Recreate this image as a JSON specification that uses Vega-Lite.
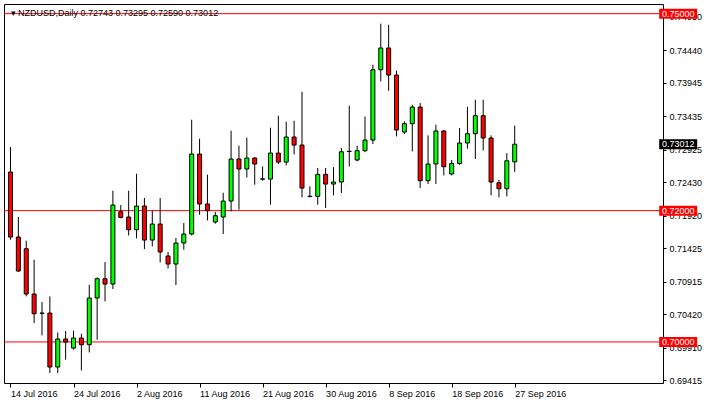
{
  "$schema": "https://vega.github.io/schema/vega-lite/v6.json",
  "width": 659,
  "height": 379,
  "autosize": {"type": "none"},
  "padding": {"left": 4, "top": 4, "right": 45, "bottom": 23},
  "background": "white",
  "config": {
    "view": {"stroke": "black", "strokeWidth": 1},
    "font": "Liberation Sans",
    "axis": {"labelOverlap": false, "labelFlush": false, "labelBound": false}
  },
  "title": {
    "text": "▾  NZDUSD,Daily  0.72743 0.73295 0.72590 0.73012",
    "anchor": "start",
    "orient": "top",
    "offset": -14,
    "dx": 7,
    "font": "Liberation Sans",
    "fontSize": 9,
    "fontWeight": "normal",
    "color": "black"
  },
  "datasets": {
    "candles": [
      {"i": 0, "date": "2016-07-14", "o": 0.72588, "h": 0.72969, "l": 0.71557, "c": 0.71598},
      {"i": 1, "date": "2016-07-15", "o": 0.71598, "h": 0.71903, "l": 0.71070, "c": 0.71080},
      {"i": 2, "date": "2016-07-17", "o": 0.71420, "h": 0.71542, "l": 0.70694, "c": 0.70730},
      {"i": 3, "date": "2016-07-18", "o": 0.70730, "h": 0.71252, "l": 0.70288, "c": 0.70430},
      {"i": 4, "date": "2016-07-19", "o": 0.70440, "h": 0.70608, "l": 0.70100, "c": 0.70436},
      {"i": 5, "date": "2016-07-20", "o": 0.70440, "h": 0.70694, "l": 0.69527, "c": 0.69618},
      {"i": 6, "date": "2016-07-21", "o": 0.69618, "h": 0.70145, "l": 0.69527, "c": 0.70045},
      {"i": 7, "date": "2016-07-22", "o": 0.70045, "h": 0.70167, "l": 0.69729, "c": 0.69999},
      {"i": 8, "date": "2016-07-24", "o": 0.69908, "h": 0.70171, "l": 0.69882, "c": 0.70060},
      {"i": 9, "date": "2016-07-25", "o": 0.70060, "h": 0.70125, "l": 0.69566, "c": 0.69958},
      {"i": 10, "date": "2016-07-26", "o": 0.69958, "h": 0.70872, "l": 0.69841, "c": 0.70669},
      {"i": 11, "date": "2016-07-27", "o": 0.70669, "h": 0.70983, "l": 0.70034, "c": 0.70963},
      {"i": 12, "date": "2016-07-28", "o": 0.70963, "h": 0.71217, "l": 0.70617, "c": 0.70882},
      {"i": 13, "date": "2016-07-29", "o": 0.70882, "h": 0.72303, "l": 0.70806, "c": 0.72085},
      {"i": 14, "date": "2016-07-31", "o": 0.71983, "h": 0.72085, "l": 0.71881, "c": 0.71897},
      {"i": 15, "date": "2016-08-01", "o": 0.71903, "h": 0.72303, "l": 0.71622, "c": 0.71709},
      {"i": 16, "date": "2016-08-02", "o": 0.71709, "h": 0.72562, "l": 0.71577, "c": 0.72070},
      {"i": 17, "date": "2016-08-03", "o": 0.72070, "h": 0.72192, "l": 0.71415, "c": 0.71552},
      {"i": 18, "date": "2016-08-04", "o": 0.71552, "h": 0.71999, "l": 0.71455, "c": 0.71796},
      {"i": 19, "date": "2016-08-05", "o": 0.71796, "h": 0.72192, "l": 0.71211, "c": 0.71370},
      {"i": 20, "date": "2016-08-07", "o": 0.71309, "h": 0.71370, "l": 0.71120, "c": 0.71187},
      {"i": 21, "date": "2016-08-08", "o": 0.71187, "h": 0.71583, "l": 0.70867, "c": 0.71507},
      {"i": 22, "date": "2016-08-09", "o": 0.71507, "h": 0.71811, "l": 0.71405, "c": 0.71644},
      {"i": 23, "date": "2016-08-10", "o": 0.71644, "h": 0.73385, "l": 0.71622, "c": 0.72862},
      {"i": 24, "date": "2016-08-11", "o": 0.72862, "h": 0.73095, "l": 0.71938, "c": 0.72101},
      {"i": 25, "date": "2016-08-12", "o": 0.72101, "h": 0.72547, "l": 0.71851, "c": 0.71999},
      {"i": 26, "date": "2016-08-14", "o": 0.71827, "h": 0.71979, "l": 0.71801, "c": 0.71923},
      {"i": 27, "date": "2016-08-15", "o": 0.71903, "h": 0.72273, "l": 0.71644, "c": 0.72146},
      {"i": 28, "date": "2016-08-16", "o": 0.72146, "h": 0.73217, "l": 0.71988, "c": 0.72786},
      {"i": 29, "date": "2016-08-17", "o": 0.72786, "h": 0.72989, "l": 0.72014, "c": 0.72634},
      {"i": 30, "date": "2016-08-18", "o": 0.72634, "h": 0.73111, "l": 0.72506, "c": 0.72801},
      {"i": 31, "date": "2016-08-19", "o": 0.72801, "h": 0.72817, "l": 0.72395, "c": 0.72710},
      {"i": 32, "date": "2016-08-21", "o": 0.72483, "h": 0.72673, "l": 0.72456, "c": 0.72479},
      {"i": 33, "date": "2016-08-22", "o": 0.72481, "h": 0.73263, "l": 0.72090, "c": 0.72877},
      {"i": 34, "date": "2016-08-23", "o": 0.72877, "h": 0.73446, "l": 0.72710, "c": 0.72740},
      {"i": 35, "date": "2016-08-24", "o": 0.72740, "h": 0.73354, "l": 0.72689, "c": 0.73121},
      {"i": 36, "date": "2016-08-25", "o": 0.73121, "h": 0.73369, "l": 0.72856, "c": 0.72999},
      {"i": 37, "date": "2016-08-26", "o": 0.72999, "h": 0.73811, "l": 0.72201, "c": 0.72344},
      {"i": 38, "date": "2016-08-28", "o": 0.72219, "h": 0.72369, "l": 0.72201, "c": 0.72215},
      {"i": 39, "date": "2016-08-29", "o": 0.72217, "h": 0.72649, "l": 0.72090, "c": 0.72552},
      {"i": 40, "date": "2016-08-30", "o": 0.72552, "h": 0.72649, "l": 0.72040, "c": 0.72405},
      {"i": 41, "date": "2016-08-31", "o": 0.72405, "h": 0.72664, "l": 0.72232, "c": 0.72436},
      {"i": 42, "date": "2016-09-01", "o": 0.72436, "h": 0.72954, "l": 0.72268, "c": 0.72897},
      {"i": 43, "date": "2016-09-02", "o": 0.72900, "h": 0.73598, "l": 0.72673, "c": 0.72904},
      {"i": 44, "date": "2016-09-04", "o": 0.72771, "h": 0.72989, "l": 0.72753, "c": 0.72913},
      {"i": 45, "date": "2016-09-05", "o": 0.72913, "h": 0.73435, "l": 0.72890, "c": 0.73075},
      {"i": 46, "date": "2016-09-06", "o": 0.73075, "h": 0.74222, "l": 0.73015, "c": 0.74146},
      {"i": 47, "date": "2016-09-07", "o": 0.74146, "h": 0.74847, "l": 0.73968, "c": 0.74477},
      {"i": 48, "date": "2016-09-08", "o": 0.74477, "h": 0.74831, "l": 0.73826, "c": 0.74065},
      {"i": 49, "date": "2016-09-09", "o": 0.74065, "h": 0.74131, "l": 0.73130, "c": 0.73228},
      {"i": 50, "date": "2016-09-11", "o": 0.73197, "h": 0.73359, "l": 0.73167, "c": 0.73324},
      {"i": 51, "date": "2016-09-12", "o": 0.73324, "h": 0.73613, "l": 0.72902, "c": 0.73578},
      {"i": 52, "date": "2016-09-13", "o": 0.73578, "h": 0.73639, "l": 0.72344, "c": 0.72456},
      {"i": 53, "date": "2016-09-14", "o": 0.72456, "h": 0.73146, "l": 0.72405, "c": 0.72710},
      {"i": 54, "date": "2016-09-15", "o": 0.72710, "h": 0.73308, "l": 0.72405, "c": 0.73213},
      {"i": 55, "date": "2016-09-16", "o": 0.73213, "h": 0.73228, "l": 0.72536, "c": 0.72669},
      {"i": 56, "date": "2016-09-18", "o": 0.72558, "h": 0.72771, "l": 0.72536, "c": 0.72719},
      {"i": 57, "date": "2016-09-19", "o": 0.72719, "h": 0.73258, "l": 0.72699, "c": 0.73030},
      {"i": 58, "date": "2016-09-20", "o": 0.73030, "h": 0.73583, "l": 0.72943, "c": 0.73171},
      {"i": 59, "date": "2016-09-21", "o": 0.73171, "h": 0.73689, "l": 0.72786, "c": 0.73446},
      {"i": 60, "date": "2016-09-22", "o": 0.73446, "h": 0.73689, "l": 0.72917, "c": 0.73106},
      {"i": 61, "date": "2016-09-23", "o": 0.73106, "h": 0.73146, "l": 0.72232, "c": 0.72436},
      {"i": 62, "date": "2016-09-25", "o": 0.72425, "h": 0.72471, "l": 0.72201, "c": 0.72334},
      {"i": 63, "date": "2016-09-26", "o": 0.72334, "h": 0.72877, "l": 0.72217, "c": 0.72760},
      {"i": 64, "date": "2016-09-27", "o": 0.72743, "h": 0.73295, "l": 0.72590, "c": 0.73012}
    ],
    "levels": [
      {"p": 0.75},
      {"p": 0.72},
      {"p": 0.70}
    ],
    "tags": [
      {"p": 0.75, "label": "0.75000", "kind": "level"},
      {"p": 0.72, "label": "0.72000", "kind": "level"},
      {"p": 0.70, "label": "0.70000", "kind": "level"},
      {"p": 0.73012, "label": "0.73012", "kind": "price"}
    ]
  },
  "layer": [
    {
      "data": {"name": "levels"},
      "mark": {"type": "rule", "color": "#ff0000", "strokeWidth": 1},
      "encoding": {
        "y": {
          "field": "p", "type": "quantitative",
          "scale": {"domain": [0.69375, 0.75147], "zero": false, "nice": false},
          "axis": {
            "orient": "right",
            "values": [0.7495, 0.7444, 0.73945, 0.73435, 0.72925, 0.7243, 0.7192, 0.71425, 0.70915, 0.7042, 0.6991, 0.69415],
            "tickCount": 40,
            "format": ".5f",
            "domain": false,
            "grid": false,
            "ticks": true,
            "tickSize": 3,
            "tickColor": "black",
            "labelPadding": 3,
            "labelFont": "Liberation Sans",
            "labelFontSize": 9,
            "labelColor": "black",
            "labelAlign": "left",
            "labelBaseline": "middle",
            "labelOverlap": false,
            "labelFlush": false,
            "title": null
          }
        }
      }
    },
    {
      "data": {"name": "candles"},
      "mark": {"type": "rule", "color": "black", "strokeWidth": 1},
      "encoding": {
        "x": {
          "field": "i", "type": "quantitative",
          "scale": {"domain": [-0.1875, 82.1875], "nice": false, "zero": false},
          "axis": {
            "orient": "bottom",
            "values": [0, 8, 16, 24, 32, 40, 48, 56, 64],
            "tickCount": 40,
            "labelExpr": "['14 Jul 2016','24 Jul 2016','2 Aug 2016','11 Aug 2016','21 Aug 2016','30 Aug 2016','8 Sep 2016','18 Sep 2016','27 Sep 2016'][round(datum.value/8)]",
            "domain": false,
            "grid": false,
            "ticks": true,
            "tickSize": 4,
            "tickColor": "black",
            "labelAlign": "left",
            "labelBaseline": "top",
            "labelPadding": 2,
            "labelFont": "Liberation Sans",
            "labelFontSize": 9,
            "labelColor": "black",
            "labelOverlap": false,
            "labelFlush": false,
            "title": null
          }
        },
        "y": {"field": "l", "type": "quantitative", "scale": {"domain": [0.69375, 0.75147], "zero": false, "nice": false}},
        "y2": {"field": "h"}
      }
    },
    {
      "data": {"name": "candles"},
      "mark": {"type": "bar", "width": 4, "stroke": "black", "strokeWidth": 1, "orient": "vertical"},
      "encoding": {
        "x": {"field": "i", "type": "quantitative", "scale": {"domain": [-0.1875, 82.1875], "nice": false, "zero": false}},
        "y": {"field": "o", "type": "quantitative", "scale": {"domain": [0.69375, 0.75147], "zero": false, "nice": false}},
        "y2": {"field": "c"},
        "color": {"condition": {"test": "datum.c >= datum.o", "value": "#00ff00"}, "value": "#ff0000"}
      }
    },
    {
      "data": {"name": "tags"},
      "mark": {"type": "tick", "orient": "horizontal", "size": 38, "thickness": 10, "opacity": 1},
      "encoding": {
        "x": {"datum": 84.75, "type": "quantitative", "scale": {"domain": [-0.1875, 82.1875], "nice": false, "zero": false}},
        "y": {"field": "p", "type": "quantitative", "scale": {"domain": [0.69375, 0.75147], "zero": false, "nice": false}},
        "color": {"field": "kind", "type": "nominal", "scale": {"domain": ["level", "price"], "range": ["#ff0000", "#000000"]}, "legend": null}
      }
    },
    {
      "data": {"name": "tags"},
      "mark": {"type": "text", "color": "white", "font": "Liberation Sans", "fontSize": 9, "align": "center", "baseline": "middle"},
      "encoding": {
        "x": {"datum": 84.75, "type": "quantitative", "scale": {"domain": [-0.1875, 82.1875], "nice": false, "zero": false}},
        "y": {"field": "p", "type": "quantitative", "scale": {"domain": [0.69375, 0.75147], "zero": false, "nice": false}},
        "text": {"field": "label"}
      }
    }
  ]
}
